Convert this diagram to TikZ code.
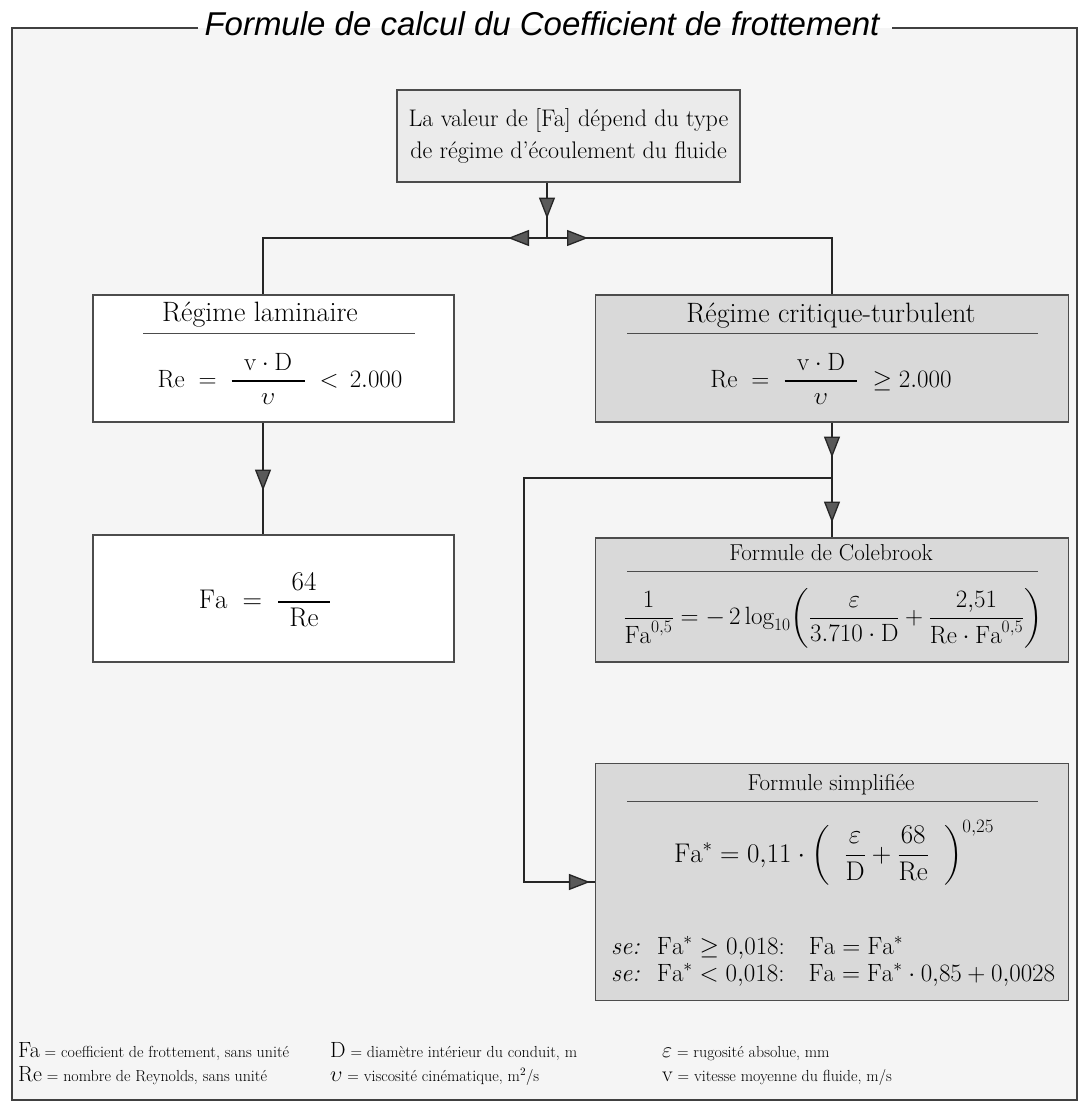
\RequirePackage{fix-cm}
\documentclass[tikz,border=0pt]{standalone}
\usepackage{amsmath}
\usepackage{fontspec}
\newfontfamily\titlefont{Liberation Sans}
\usetikzlibrary{positioning,arrows.meta,decorations.markings}

\newcommand{\legsym}[1]{{\fontsize{22}{22}\selectfont #1}}
\newcommand{\barfrac}[2]{\genfrac{}{}{1.8pt}{0}{\hspace{0.5em}#1\hspace{0.5em}}{#2}}

\tikzset{
  frame/.style={draw=black!75, line width=1.6pt},
  block/.style={rectangle, draw=black!70, line width=1.1pt, inner sep=0pt},
  plain/.style={block, fill=white},
  shaded/.style={block, fill=black!15},
  pale/.style={block, fill=black!8},
  head/.style={font=\fontsize{28}{32}\selectfont, inner sep=0pt},
  formula/.style={font=\fontsize{25}{29}\selectfont, inner sep=0pt},
  rule/.style={draw=black!70, line width=1pt},
  link/.style={draw=black!85, line width=1.3pt},
  Tri/.tip={Triangle[length=21pt,width=16pt,fill=black!65]},
  headat/.style={postaction={decorate, decoration={markings, mark=at position #1 with {\arrow{Tri}}}}},
  legend/.style={anchor=base west, inner sep=0pt, font=\fontsize{16}{18}\selectfont}
}

\begin{document}
\begin{tikzpicture}[x=1pt, y=-1pt]
\useasboundingbox (0,0) rectangle (1085,1110);
% frame and title
\fill[black!4] (12,28) rectangle (1077,1100);
\node[font=\titlefont\itshape\fontsize{33}{38}\selectfont, inner sep=0pt] (title) at (542,24) {Formule de calcul du Coefficient de frottement};
\draw[frame] (198,28) -- (12,28) -- (12,1100) -- (1077,1100) -- (1077,28) -- (892,28);

% boxes
\node[pale, minimum width=343pt, minimum height=92pt, align=center, font=\fontsize{24}{32}\selectfont] (ask) at (568.5,136) {La valeur de [Fa] dépend du type\\de régime d'écoulement du fluide};
\node[plain, minimum width=361pt, minimum height=127pt] (lam) at (273.5,358.5) {};
\node[shaded, minimum width=473pt, minimum height=127pt] (crit) at (832,358.5) {};
\node[plain, minimum width=361pt, minimum height=127pt] (fa) at (273.5,598.5) {};
\node[shaded, minimum width=473pt, minimum height=124pt] (cole) at (832,600) {};
\node[shaded, minimum width=473pt, minimum height=237pt] (simp) at (832,882) {};

% laminaire
\node[head] (lamtitle) at (260,315) {Régime laminaire};
\draw[rule] (143,333) -- (415,333);
\node[formula] (lamre) at (280,379) {$\mathrm{Re}\;=\;\barfrac{\mathrm{v}\cdot\mathrm{D}}{\upsilon}\;<\,2.000$};
\node[formula, font=\fontsize{27}{31}\selectfont] (fafrac) at (265,600) {$\mathrm{Fa}\;=\;\barfrac{64}{\mathrm{Re}}$};

% critique-turbulent
\node[head] (crittitle) at (831,316) {Régime critique-turbulent};
\draw[rule] (627,333) -- (1038,333);
\node[formula] (critre) at (831,379) {$\mathrm{Re}\;=\;\barfrac{\mathrm{v}\cdot\mathrm{D}}{\upsilon}\;\geq 2.000$};

% Colebrook
\node[font=\fontsize{23}{27}\selectfont, inner sep=0pt] (coletitle) at (831,553) {Formule de Colebrook};
\draw[rule] (627,571) -- (1038,571);
\node[formula] (coleeq) at (833,618) {$\dfrac{1}{\mathrm{Fa}^{0{,}5}} = -\,2\log_{10}\!\left(\dfrac{\varepsilon}{3.710\cdot\mathrm{D}}+\dfrac{2{,}51}{\mathrm{Re}\cdot\mathrm{Fa}^{0{,}5}}\right)$};

% simplifiee
\node[font=\fontsize{23}{27}\selectfont, inner sep=0pt] (simptitle) at (831,785) {Formule simplifiée};
\draw[rule] (627,801) -- (1038,801);
\node[formula, font=\fontsize{27}{31}\selectfont] (simpeq) at (834,853) {$\mathrm{Fa}^{*} = 0{,}11\cdot\left(\;\;\dfrac{\varepsilon}{\mathrm{D}}+\dfrac{68}{\mathrm{Re}}\;\;\right)^{0{,}25}$};
\node[formula, anchor=west] (seone) at (611,948) {\textit{se:}\; $\mathrm{Fa}^{*}\geq 0{,}018$:\;\; $\mathrm{Fa}=\mathrm{Fa}^{*}$};
\node[formula, anchor=west] (setwo) at (611,975) {\textit{se:}\; $\mathrm{Fa}^{*}< 0{,}018$:\;\; $\mathrm{Fa}=\mathrm{Fa}^{*}\cdot 0{,}85+0{,}0028$};

% connectors
\coordinate (split) at (547,238);
\coordinate (lbranch) at (263,238);
\coordinate (merge) at (832,478);
\coordinate (loop) at (524,478);
\draw[link, headat=36pt] (ask.south -| split) -- (split);
\draw[link, headat=39pt] (split) -- (lbranch) -- (lbranch |- lam.north);
\draw[link, headat=41pt] (split) -| (crit.north);
\draw[link, headat=68pt] (lbranch |- lam.south) -- (lbranch |- fa.north);
\draw[link, headat=35pt, headat=100pt] (crit.south) -- (cole.north);
\draw[link, headat=-5pt] (merge) -- (loop) |- (simp.west);

% legend
\node[legend] (lfa) at (18,1057) {\legsym{Fa} = coefficient de frottement, sans unité};
\node[legend] (lre) at (18,1081) {\legsym{Re} = nombre de Reynolds, sans unité};
\node[legend] (ld) at (330,1057) {\legsym{D} = diamètre intérieur du conduit, m};
\node[legend] (lnu) at (330,1081) {\legsym{$\upsilon$} = viscosité cinématique, m$^{2}$/s};
\node[legend] (leps) at (662,1057) {\legsym{$\varepsilon$} = rugosité absolue, mm};
\node[legend] (lv) at (662,1081) {\legsym{v} = vitesse moyenne du fluide, m/s};
\end{tikzpicture}
\end{document}
